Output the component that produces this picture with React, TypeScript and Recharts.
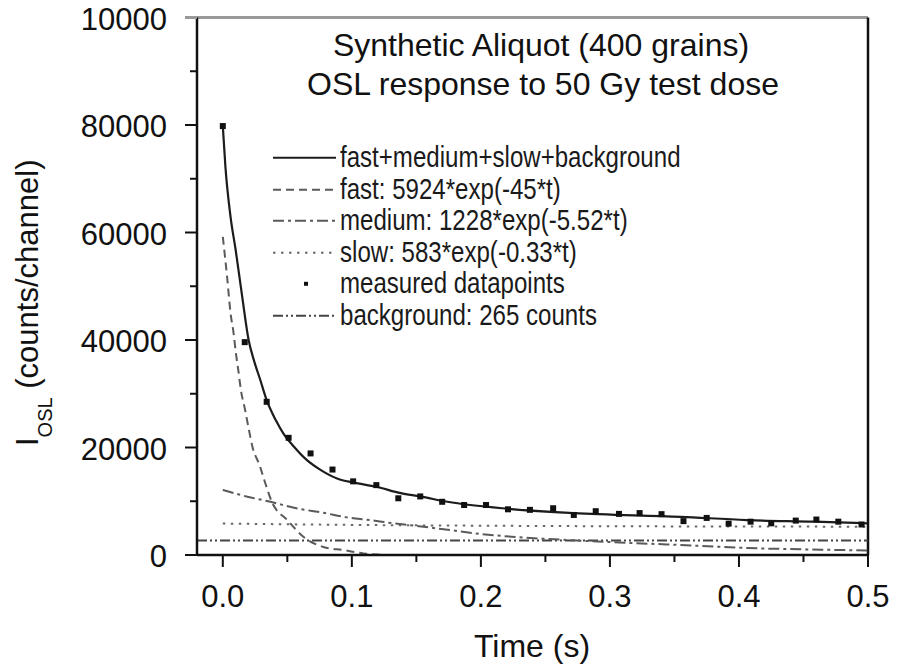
import React from 'react';
import { ComposedChart, Line, Scatter, XAxis, YAxis, ReferenceLine } from 'recharts';

// measured channels (time in s, counts per channel)
const measuredTime = [0, 0.017, 0.034, 0.051, 0.068, 0.085, 0.101, 0.119, 0.136, 0.153, 0.170, 0.187, 0.204, 0.221, 0.238, 0.256, 0.272, 0.289, 0.307, 0.323, 0.340, 0.357, 0.375, 0.392, 0.409, 0.425, 0.444, 0.460, 0.477, 0.495];
const measuredCounts = [79800, 39600, 28500, 21800, 18900, 15900, 13700, 13000, 10550, 10900, 9900, 9300, 9300, 8500, 8400, 8700, 7450, 8150, 7650, 7800, 7600, 6300, 6900, 5830, 6200, 5890, 6400, 6600, 6200, 5680];

// fitted curves
const fitTime = [0, 0.002, 0.006, 0.010, 0.015, 0.020, 0.024, 0.029, 0.034, 0.041, 0.047, 0.055, 0.065, 0.076, 0.089, 0.101, 0.119, 0.138, 0.153, 0.174, 0.221, 0.272, 0.355, 0.406, 0.458, 0.5];
const fitCounts = [79800, 72300, 62900, 56700, 48100, 40000, 36300, 32600, 28800, 25100, 22600, 20200, 17700, 15800, 14200, 13500, 12700, 11500, 10900, 9900, 8600, 7800, 7100, 6500, 6200, 5900];

const fastTime = [0, 0.0033, 0.006, 0.0084, 0.010, 0.012, 0.014, 0.017, 0.020, 0.023, 0.0285, 0.033, 0.038, 0.050, 0.064, 0.078, 0.094, 0.109, 0.125];
const fastCounts = [59200, 51800, 45000, 41200, 37800, 34400, 30700, 27300, 23600, 20100, 16700, 13300, 9900, 6500, 3100, 1500, 900, 300, 0];

const mediumTime = [0, 0.019, 0.037, 0.057, 0.078, 0.096, 0.114, 0.132, 0.150, 0.171, 0.2, 0.23, 0.27, 0.33, 0.37, 0.4, 0.45, 0.5];
const mediumCounts = [12100, 10850, 9900, 8700, 7850, 7000, 6500, 5900, 5400, 4800, 3900, 3300, 2750, 2100, 1700, 1350, 1050, 850];

const slowTime = [0, 0.1, 0.2, 0.3, 0.4, 0.5];
const slowCounts = [5850, 5600, 5450, 5350, 5300, 5270];

const backgroundTime = [-0.02, 0.5];
const backgroundCounts = [2700, 2700];

const xMajorTicks = [0, 0.1, 0.2, 0.3, 0.4, 0.5];
const xMinorTicks = [0.05, 0.15, 0.25, 0.35, 0.45];
const xTickLabels = ['0.0', '0.1', '0.2', '0.3', '0.4', '0.5'];
const yMajorTicks = [0, 20000, 40000, 60000, 80000, 100000];
const yMinorTicks = [10000, 30000, 50000, 70000, 90000];
const yTickLabels = ['0', '20000', '40000', '60000', '80000', '10000'];

const titleLines = ['Synthetic Aliquot (400 grains)', 'OSL response to 50 Gy test dose'];
const legendLabels = [
    'fast+medium+slow+background',
    'fast: 5924*exp(-45*t)',
    'medium: 1228*exp(-5.52*t)',
    'slow: 583*exp(-0.33*t)',
    'measured datapoints',
    'background: 265 counts',
];

const FONT = "'Liberation Sans', Arial, Helvetica, sans-serif";

const toPoints = (ts: number[], vs: number[]) => ts.map((t, i) => ({ t, v: vs[i] }));

const measured = toPoints(measuredTime, measuredCounts);
const fit = toPoints(fitTime, fitCounts);
const fast = toPoints(fastTime, fastCounts);
const medium = toPoints(mediumTime, mediumCounts);
const slow = toPoints(slowTime, slowCounts);
const background = toPoints(backgroundTime, backgroundCounts);

const xTicks = [...xMajorTicks, ...xMinorTicks].sort((a, b) => a - b);
const yTicks = [...yMajorTicks, ...yMinorTicks].sort((a, b) => a - b);

const styles = {
    fit: { stroke: '#1c1c1c', width: 2.2, dash: undefined as string | undefined },
    fast: { stroke: '#5a5a5a', width: 2, dash: '8 5' },
    medium: { stroke: '#5a5a5a', width: 2, dash: '11 4 3 4' },
    slow: { stroke: '#6a6a6a', width: 2, dash: '2.5 5.5' },
    background: { stroke: '#444', width: 2, dash: '10 3 2 3 2 3' },
};

const YTick = (props: any) => {
    const { x, y, payload } = props;
    const idx = yMajorTicks.indexOf(payload.value);
    const major = idx >= 0;
    const top = payload.value === 100000;
    return (
        <g>
            <line x1={x} y1={y} x2={x - (major ? 12 : 7)} y2={y} stroke={top ? '#999' : '#111'} strokeWidth={top ? 3 : 2} />
            {major && (
                <text x={x - 30} y={y + 12} textAnchor="end" fontSize={31} fill="#111" fontFamily={FONT}>
                    {yTickLabels[idx]}
                </text>
            )}
        </g>
    );
};

const XTick = (props: any) => {
    const { x, y, payload } = props;
    const idx = xMajorTicks.indexOf(payload.value);
    const major = idx >= 0;
    return (
        <g>
            <line x1={x} y1={y} x2={x} y2={y + (major ? 12 : 7)} stroke="#111" strokeWidth={2} />
            {major && (
                <text x={x} y={y + 52} textAnchor="middle" fontSize={31} fill="#111" fontFamily={FONT}>
                    {xTickLabels[idx]}
                </text>
            )}
        </g>
    );
};

const Square = (props: any) => {
    const { cx, cy } = props;
    return <rect x={cx - 3} y={cy - 3} width={6} height={6} fill="#111" />;
};

const LegendSymbol = ({ index }: { index: number }) => {
    const keys = ['fit', 'fast', 'medium', 'slow', '', 'background'] as const;
    const key = keys[index];
    return (
        <svg width={67} height={31.6} style={{ display: 'block', flex: 'none' }}>
            {key ? (
                <line
                    x1={0}
                    x2={63}
                    y1={15.8}
                    y2={15.8}
                    stroke={styles[key].stroke}
                    strokeWidth={2}
                    strokeDasharray={styles[key].dash}
                />
            ) : (
                <rect x={31} y={13.8} width={4} height={4} fill="#111" />
            )}
        </svg>
    );
};

const LegendBox = () => (
    <div style={{ position: 'absolute', left: 273, top: 142, fontFamily: FONT, color: '#1a1a1a' }}>
        {legendLabels.map((label, i) => (
            <div key={label} style={{ display: 'flex', alignItems: 'center', height: 31.6 }}>
                <LegendSymbol index={i} />
                <span
                    style={{
                        display: 'inline-block',
                        fontSize: 29,
                        lineHeight: '31.6px',
                        whiteSpace: 'nowrap',
                        transform: 'scaleX(0.83)',
                        transformOrigin: 'left center',
                    }}
                >
                    {label}
                </span>
            </div>
        ))}
    </div>
);

const App: React.FC = () => {
    return (
        <div style={{ position: 'absolute', left: 0, top: 0, width: 897, height: 664, background: 'white' }}>
            <ComposedChart width={897} height={664} margin={{ top: 17.5, right: 29, bottom: 0, left: 0 }}>
                <XAxis
                    dataKey="t"
                    type="number"
                    domain={[-0.02, 0.5]}
                    allowDataOverflow
                    ticks={xTicks}
                    interval={0}
                    height={109}
                    tickSize={0}
                    tickMargin={0}
                    tickLine={false}
                    tick={<XTick />}
                    axisLine={{ stroke: '#111', strokeWidth: 2.5 }}
                />
                <YAxis
                    dataKey="v"
                    type="number"
                    domain={[0, 100000]}
                    allowDataOverflow
                    ticks={yTicks}
                    interval={0}
                    width={197}
                    tickSize={0}
                    tickMargin={0}
                    tickLine={false}
                    tick={<YTick />}
                    axisLine={{ stroke: '#111', strokeWidth: 2.5 }}
                />
                <ReferenceLine y={100000} stroke="#999" strokeWidth={3} />
                <ReferenceLine x={0.5} stroke="#111" strokeWidth={2.5} />
                <Line data={background} dataKey="v" type="linear" stroke={styles.background.stroke} strokeWidth={styles.background.width} strokeDasharray={styles.background.dash} dot={false} activeDot={false} isAnimationActive={false} />
                <Line data={slow} dataKey="v" type="monotone" stroke={styles.slow.stroke} strokeWidth={styles.slow.width} strokeDasharray={styles.slow.dash} dot={false} activeDot={false} isAnimationActive={false} />
                <Line data={medium} dataKey="v" type="monotone" stroke={styles.medium.stroke} strokeWidth={styles.medium.width} strokeDasharray={styles.medium.dash} dot={false} activeDot={false} isAnimationActive={false} />
                <Line data={fast} dataKey="v" type="monotone" stroke={styles.fast.stroke} strokeWidth={styles.fast.width} strokeDasharray={styles.fast.dash} dot={false} activeDot={false} isAnimationActive={false} />
                <Line data={fit} dataKey="v" type="monotone" stroke={styles.fit.stroke} strokeWidth={styles.fit.width} dot={false} activeDot={false} isAnimationActive={false} />
                <Scatter data={measured} dataKey="v" shape={<Square />} isAnimationActive={false} />
            </ComposedChart>

            <svg width={897} height={664} style={{ position: 'absolute', left: 0, top: 0, pointerEvents: 'none' }} fontFamily={FONT} fill="#111">
                <text x={541} y={56} textAnchor="middle" fontSize={32}>{titleLines[0]}</text>
                <text x={543} y={95} textAnchor="middle" fontSize={32}>{titleLines[1]}</text>
                <text x={532} y={657} textAnchor="middle" fontSize={32}>Time (s)</text>
                <text x={38} y={446} fontSize={31} transform="rotate(-90 38 446)">
                    I
                    <tspan fontSize={20} dy={14}>OSL</tspan>
                    <tspan fontSize={31} dy={-14}> (counts/channel)</tspan>
                </text>
            </svg>

            <LegendBox />
        </div>
    );
};

export default App;
